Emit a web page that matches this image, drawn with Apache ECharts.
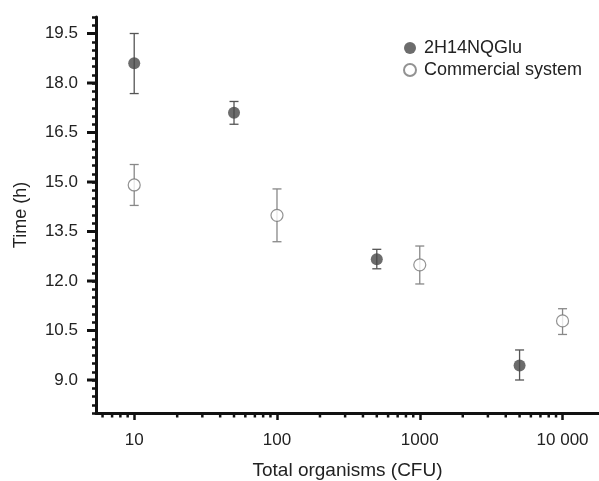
<!DOCTYPE html>
<html>
<head>
<meta charset="utf-8">
<script src="https://cdn.jsdelivr.net/npm/echarts@6/dist/echarts.min.js"></script>
<style>
  html, body { margin: 0; padding: 0; background: #fff; }
  #chart { width: 599px; height: 481px; }
</style>
</head>
<body>
<div id="chart"></div>
<script>
// data
var seriesNames = ['2H14NQGlu', 'Commercial system'];
var glu = [[10, 18.6], [50, 17.1], [500, 12.66], [5000, 9.44]];
var gluErr = [[10, 17.68, 19.5], [50, 16.75, 17.44], [500, 12.37, 12.96], [5000, 9.0, 9.91]];
var comm = [[10, 14.91], [100, 13.99], [1000, 12.49], [10000, 10.79]];
var commErr = [[10, 14.29, 15.53], [100, 13.19, 14.79], [1000, 11.91, 13.06], [10000, 10.38, 11.16]];
// axis ticks
var yMajor = [9.0, 10.5, 12.0, 13.5, 15.0, 16.5, 18.0, 19.5];
var xMinor = [6, 7, 8, 9, 20, 30, 40, 50, 60, 70, 80, 90, 200, 300, 400, 500, 600, 700, 800, 900,
  2000, 3000, 4000, 5000, 6000, 7000, 8000, 9000];

var Y_MIN = 8, Y_MAX = 20, X_MIN = 5.4, X_MAX = 18000;

var chart = echarts.init(document.getElementById('chart'));

function errBar(color) {
  return function (params, api) {
    var x = api.value(0);
    var lo = api.coord([x, api.value(1)]);
    var hi = api.coord([x, api.value(2)]);
    var w = 4.5;
    var st = { stroke: color, lineWidth: 1.3 };
    return {
      type: 'group',
      children: [
        { type: 'line', shape: { x1: lo[0], y1: lo[1], x2: hi[0], y2: hi[1] }, style: st },
        { type: 'line', shape: { x1: lo[0] - w, y1: lo[1], x2: lo[0] + w, y2: lo[1] }, style: st },
        { type: 'line', shape: { x1: hi[0] - w, y1: hi[1], x2: hi[0] + w, y2: hi[1] }, style: st }
      ]
    };
  };
}

var option = {
  backgroundColor: '#fff',
  animation: false,
  legend: {
    orient: 'vertical',
    left: 398,
    top: 34,
    itemWidth: 12,
    itemHeight: 12,
    itemGap: 4,
    icon: 'circle',
    data: seriesNames,
    textStyle: { fontFamily: 'Liberation Sans', fontSize: 18, color: '#222', padding: [0, 0, 0, 3] }
  },
  grid: { left: 96, top: 17, right: 0, bottom: 68, outerBoundsMode: 'none', containLabel: false },
  xAxis: {
    type: 'log',
    logBase: 10,
    min: X_MIN,
    max: X_MAX,
    name: 'Total organisms (CFU)',
    nameLocation: 'middle',
    nameGap: 48,
    nameTextStyle: { fontFamily: 'Liberation Sans', fontSize: 19, color: '#222' },
    axisLine: { lineStyle: { color: '#111', width: 3 } },
    axisTick: { length: 7, lineStyle: { color: '#111', width: 2.5 } },
    splitLine: { show: false },
    axisLabel: {
      margin: 19,
      fontFamily: 'Liberation Sans',
      fontSize: 17,
      color: '#222',
      showMinLabel: false,
      showMaxLabel: false,
      formatter: function (v) {
        var e = Math.log10(v);
        if (Math.abs(e - Math.round(e)) > 1e-6) return '';
        var n = Math.round(v);
        return n >= 10000 ? String(n).replace(/(\d)(?=(\d{3})+$)/g, '$1 ') : String(n);
      }
    }
  },
  yAxis: {
    type: 'value',
    min: Y_MIN,
    max: Y_MAX,
    interval: 0.25,
    name: 'Time (h)',
    nameLocation: 'middle',
    nameGap: 66,
    nameTextStyle: { fontFamily: 'Liberation Sans', fontSize: 18, color: '#222' },
    axisLine: { show: true, lineStyle: { color: '#111', width: 3 } },
    axisTick: { length: 4, lineStyle: { color: '#111', width: 2.5 } },
    splitLine: { show: false },
    axisLabel: {
      margin: 18,
      fontFamily: 'Liberation Sans',
      fontSize: 17,
      color: '#222',
      formatter: function (v) {
        var k = v / 1.5;
        if (Math.abs(k - Math.round(k)) > 1e-6 || v < 9) return '';
        return v.toFixed(1);
      }
    }
  },
  series: [
    {
      name: seriesNames[0],
      type: 'scatter',
      symbol: 'circle',
      symbolSize: 12,
      itemStyle: { color: '#474747' },
      z: 4,
      data: glu
    },
    {
      name: seriesNames[1],
      type: 'scatter',
      symbol: 'circle',
      symbolSize: 12,
      itemStyle: { color: '#fff', borderColor: '#777', borderWidth: 1.2 },
      z: 4,
      data: comm
    },
    {
      type: 'custom',
      renderItem: errBar('#555'),
      encode: { x: 0, y: [1, 2] },
      z: 3,
      silent: true,
      data: gluErr
    },
    {
      type: 'custom',
      renderItem: errBar('#888'),
      encode: { x: 0, y: [1, 2] },
      z: 3,
      silent: true,
      data: commErr
    },
    {
      // longer ticks at the labelled y values
      type: 'custom',
      silent: true,
      clip: false,
      z: 10,
      renderItem: function (params, api) {
        var p = api.coord([10, api.value(1)]);
        var x0 = params.coordSys.x;
        return {
          type: 'line',
          shape: { x1: x0, y1: p[1], x2: x0 - 9, y2: p[1] },
          style: { stroke: '#111', lineWidth: 3 }
        };
      },
      data: yMajor.map(function (v) { return [10, v]; }),
      encode: { x: 0, y: 1 }
    },
    {
      // minor ticks on the log axis
      type: 'custom',
      silent: true,
      clip: false,
      z: 5,
      renderItem: function (params, api) {
        var p = api.coord([api.value(0), api.value(1)]);
        return {
          type: 'line',
          shape: { x1: p[0], y1: p[1], x2: p[0], y2: p[1] + 4.5 },
          style: { stroke: '#111', lineWidth: 2.5 }
        };
      },
      data: xMinor.map(function (v) { return [v, Y_MIN]; }),
      encode: { x: 0, y: 1 }
    }
  ]
};

chart.setOption(option);
</script>
</body>
</html>
